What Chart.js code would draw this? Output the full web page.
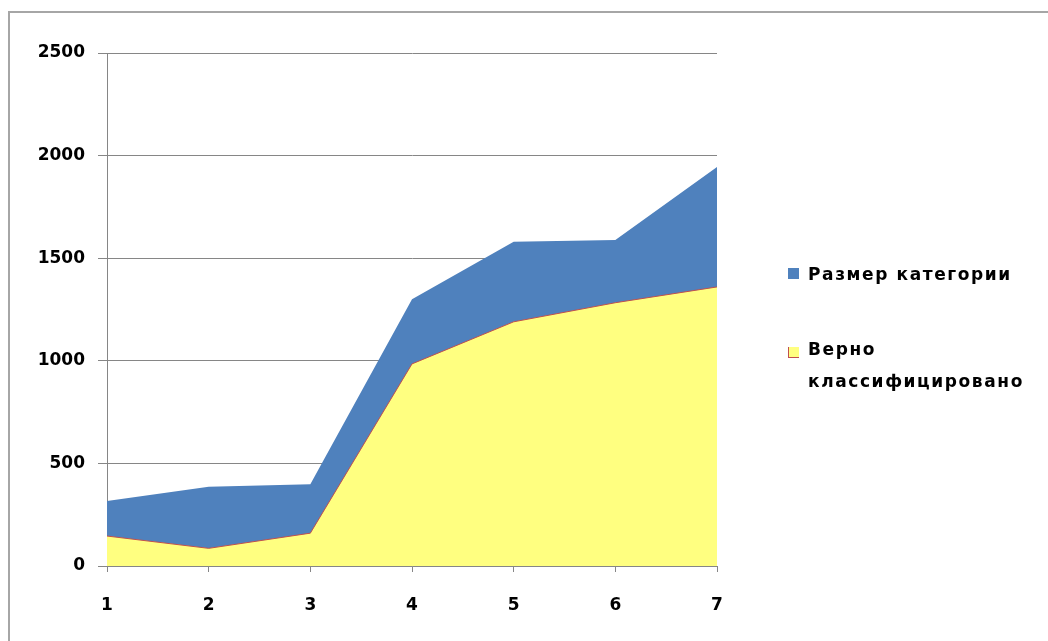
<!DOCTYPE html>
<html lang="ru">
<head>
  <meta charset="UTF-8" />
  <title>Размер категории и верно классифицировано</title>
  <script src="https://cdn.jsdelivr.net/npm/chart.js"></script>
  <style>
    html, body { margin: 0; padding: 0; background: #fff; overflow: hidden; }
    #rama {
      position: absolute; left: 8px; top: 11px;
      width: 1200px; height: 800px;
      border: 2px solid #a6a6a6;
    }
    #holst { position: absolute; left: 0; top: 0; width: 1048px; height: 641px; }
    .legenda {
      position: absolute; left: 788px;
      font-family: "DejaVu Sans", sans-serif; font-size: 17px; font-weight: bold;
      letter-spacing: 1.6px; color: #000;
    }
    .legenda .kv {
      position: absolute; left: 0; width: 11px; height: 11px;
    }
    .legenda .tekst { position: absolute; left: 20px; white-space: nowrap; line-height: 32px; }
  </style>
</head>
<body>
  <div id="rama"></div>
  <div id="holst"><canvas id="grafik" width="1048" height="641"></canvas></div>

  <div class="legenda" style="top:258px">
    <div class="kv" style="top:10px;background:#4f81bd"></div>
    <div class="tekst" style="top:0">Размер категории</div>
  </div>
  <div class="legenda" style="top:333px">
    <div class="kv" style="top:14px;background:#ffff80;border-left:1px solid #c0504d;border-bottom:1px solid #c0504d;width:10px;height:10px"></div>
    <div class="tekst" style="top:0">Верно<br>классифицировано</div>
  </div>

  <script>
    const kategorii = ['1', '2', '3', '4', '5', '6', '7'];
    const razmerKategorii = [317, 386, 399, 1300, 1580, 1589, 1945];
    const vernoKlassif = [146, 86, 160, 985, 1190, 1283, 1360];
    const metkiY = [0, 500, 1000, 1500, 2000, 2500];

    const seryi = '#868686';
    const shrift = { family: 'DejaVu Sans', size: 17, weight: 'bold' };

    const ctx = document.getElementById('grafik').getContext('2d');
    new Chart(ctx, {
      type: 'line',
      data: {
        labels: kategorii,
        datasets: [
          {
            label: 'Верно классифицировано',
            data: vernoKlassif,
            fill: 'origin',
            backgroundColor: '#ffff80',
            borderColor: '#c0504d',
            borderWidth: 1,
            pointRadius: 0,
            tension: 0,
            order: 1
          },
          {
            label: 'Размер категории',
            data: razmerKategorii,
            fill: 'origin',
            backgroundColor: '#4f81bd',
            borderColor: '#4f81bd',
            borderWidth: 0,
            pointRadius: 0,
            tension: 0,
            order: 2
          }
        ]
      },
      options: {
        responsive: false,
        animation: false,
        layout: { padding: { left: 0, right: 331, top: 53, bottom: 0 } },
        plugins: {
          legend: { display: false },
          tooltip: { enabled: false }
        },
        scales: {
          x: {
            offset: false,
            grid: { drawOnChartArea: false, color: seryi, tickLength: 6 },
            border: { color: seryi, width: 1 },
            ticks: { color: '#000', font: shrift, padding: 23, maxRotation: 0 },
            afterFit: (s) => { s.height = 75; }
          },
          y: {
            min: 0,
            max: 2500,
            afterBuildTicks: (s) => { s.ticks = metkiY.map(v => ({ value: v })); },
            grid: { color: seryi, tickLength: 9 },
            border: { color: seryi, width: 1 },
            ticks: { color: '#000', font: shrift, padding: 13, callback: (v) => String(v) },
            afterFit: (s) => { s.width = 107; }
          }
        }
      }
    });
  </script>
</body>
</html>
